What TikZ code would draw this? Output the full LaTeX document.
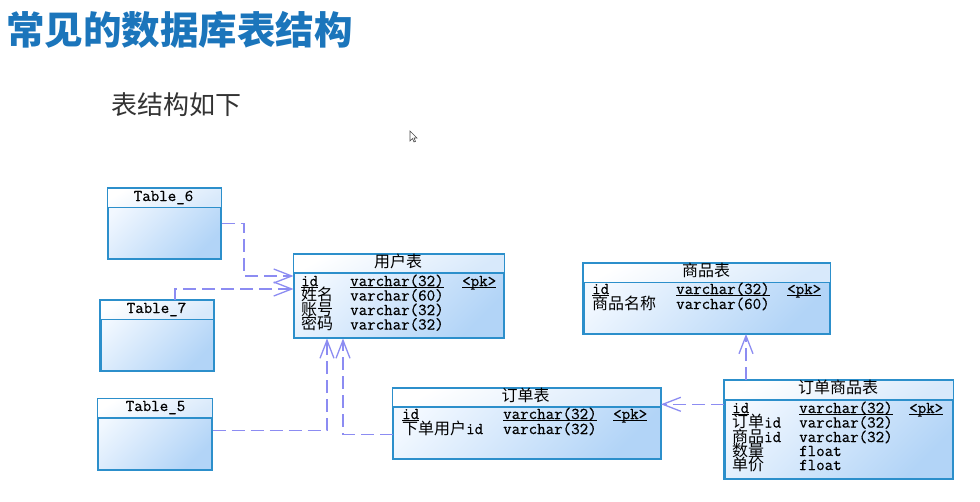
\documentclass[tikz,border=0pt]{standalone}
\usepackage{fontspec}
\newfontfamily\cjk{Noto Sans CJK SC}
\newfontfamily\mono[FakeBold=0.5]{Latin Modern Mono}
\usetikzlibrary{arrows.meta}
\definecolor{titleblue}{HTML}{1B75BB}
\definecolor{subgray}{HTML}{333333}
\definecolor{tblborder}{HTML}{2C8FCB}
\definecolor{bodyA}{HTML}{F2F8FF}
\definecolor{bodyB}{HTML}{B2D4F7}
\definecolor{headA}{HTML}{FFFFFF}
\definecolor{headB}{HTML}{D8E9FB}
\definecolor{fkcol}{HTML}{8C8CF2}
\newcommand\zh[1]{{\cjk\fontsize{16}{18}\selectfont #1}}
\newcommand\ul[1]{\underline{\smash{#1}}}
\newcommand\dbtable[6]{%
  \node[tblbody, minimum width=#4pt, minimum height=#5pt, anchor=north west] (#1) at (#2,#3) {};
  \shade[tblhead] (#1.north west) rectangle ([yshift=-#6pt]#1.north east);
  \draw[tblline] (#1.north west) rectangle (#1.south east);
  \draw[tblline] ([yshift=-#6pt]#1.north west) -- ([yshift=-#6pt]#1.north east);
}
\tikzset{
  tblbody/.style={draw=tblborder, line width=1.5pt, inner sep=0pt, top color=bodyA, bottom color=bodyB, shading angle=45},
  tblhead/.style={top color=headA, bottom color=headB, shading angle=30},
  tblline/.style={draw=tblborder, line width=1.5pt},
  txt/.style={anchor=base west, inner sep=0pt, font=\mono\fontsize{16.5}{18}\selectfont},
  ttl/.style={anchor=base, inner sep=0pt, font=\mono\fontsize{16.5}{18}\selectfont},
  fk/.style={draw=fkcol, line width=1.3pt, dash pattern=on 13pt off 6pt, -{Straight Barb[length=18pt,width=14pt]}},
}
\begin{document}
\begin{tikzpicture}[x=1pt,y=-1pt]
\useasboundingbox[fill=white] (0,0) rectangle (980,501);
% titles
\node[anchor=base west, inner sep=0pt, text=titleblue, font=\cjk\bfseries\fontsize{38.5}{40}\selectfont] (title) at (6,44) {常见的数据库表结构};
\node[anchor=base west, inner sep=0pt, text=subgray, font=\cjk\fontsize{26}{28}\selectfont] (sub) at (111,114) {表结构如下};
% cursor
\draw[black!70, line width=0.6pt, fill=white] (410,131) -- (410,141) -- (412.5,138.5) -- (414,142) -- (415.5,141.3) -- (414,138) -- (417,138) -- cycle;

% tables
\dbtable{t6}{107.5}{188}{112.5}{69.5}{19.5}
\node[ttl] (t6n) at (163.5,201) {Table\_6};
\dbtable{t7}{100}{300}{112.5}{70}{19.5}
\node[ttl] (t7n) at (156.5,313) {Table\_7};
\dbtable{t5}{97.5}{398.5}{113.5}{70}{19.5}
\node[ttl] (t5n) at (155.5,411) {Table\_5};

\dbtable{user}{293.5}{254}{209.5}{83}{19}
\node[ttl] (usern) at (398,267) {\zh{用户表}};
\node[txt] (u1a) at (301,286) {\ul{id}};
\node[txt] (u1b) at (350,286) {\ul{varchar(32)}};
\node[txt] (u1c) at (462,286) {\ul{<pk>}};
\node[txt] (u2a) at (301,300.5) {\zh{姓名}};
\node[txt] (u2b) at (350,300.5) {varchar(60)};
\node[txt] (u3a) at (301,315) {\zh{账号}};
\node[txt] (u3b) at (350,315) {varchar(32)};
\node[txt] (u4a) at (301,329.5) {\zh{密码}};
\node[txt] (u4b) at (350,329.5) {varchar(32)};

\dbtable{goods}{583}{263}{246}{69.5}{19.5}
\node[ttl] (goodsn) at (706,276.5) {\zh{商品表}};
\node[txt] (g1a) at (592,294) {\ul{id}};
\node[txt] (g1b) at (676,294) {\ul{varchar(32)}};
\node[txt] (g1c) at (787,294) {\ul{<pk>}};
\node[txt] (g2a) at (592,309) {\zh{商品名称}};
\node[txt] (g2b) at (676,309) {varchar(60)};

\dbtable{order}{392.5}{388}{267}{70}{19}
\node[ttl] (ordern) at (525.5,401.5) {\zh{订单表}};
\node[txt] (o1a) at (402,419) {\ul{id}};
\node[txt] (o1b) at (503,419) {\ul{varchar(32)}};
\node[txt] (o1c) at (613,419) {\ul{<pk>}};
\node[txt] (o2a) at (402,434) {\zh{下单用户}id};
\node[txt] (o2b) at (503,434) {varchar(32)};

\dbtable{og}{724}{380}{228}{97.5}{20}
\node[ttl] (ogn) at (838,393) {\zh{订单商品表}};
\node[txt] (p1a) at (732,413) {\ul{id}};
\node[txt] (p1b) at (799,413) {\ul{varchar(32)}};
\node[txt] (p1c) at (909,413) {\ul{<pk>}};
\node[txt] (p2a) at (732,427.5) {\zh{订单}id};
\node[txt] (p2b) at (799,427.5) {varchar(32)};
\node[txt] (p3a) at (732,442) {\zh{商品}id};
\node[txt] (p3b) at (799,442) {varchar(32)};
\node[txt] (p4a) at (732,456) {\zh{数量}};
\node[txt] (p4b) at (799,456) {float};
\node[txt] (p5a) at (732,470) {\zh{单价}};
\node[txt] (p5b) at (799,470) {float};

% connectors
\coordinate (c1) at (244,276);
\coordinate (c2) at (175,289);
\coordinate (c3) at (327,430.7);
\coordinate (c4) at (343,434.3);
\coordinate (c5) at (746,404.3);
\draw[fk] (t6.east) -| (c1) -- (user.west |- c1);
\draw[fk] (t7.north -| c2) -- (c2) -- (user.west |- c2);
\draw[fk] (t5.east |- c3) -- (c3) -- (user.south -| c3);
\draw[fk] (order.west |- c4) -- (c4) -- (user.south -| c4);
\draw[fk] (og.west |- c5) -- (order.east |- c5);
\draw[fk] (og.north -| c5) -- (goods.south -| c5);
\end{tikzpicture}
\end{document}
